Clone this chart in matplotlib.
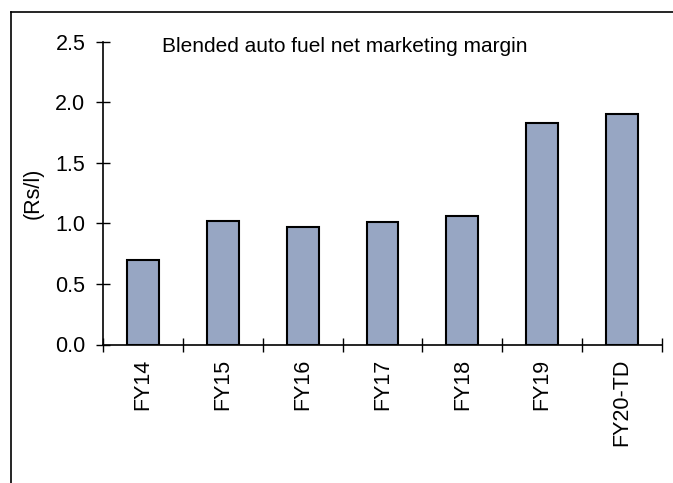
import matplotlib
matplotlib.use("Agg")
import matplotlib.pyplot as plt
from matplotlib.lines import Line2D
import numpy as np

plt.rcParams['font.family'] = ['Liberation Sans', 'DejaVu Sans']

categories = ["FY14", "FY15", "FY16", "FY17", "FY18", "FY19", "FY20-TD"]
margin = [0.70, 1.02, 0.97, 1.01, 1.06, 1.83, 1.90]
y_ticks = [0.0, 0.5, 1.0, 1.5, 2.0, 2.5]

W, H = 673, 483
FS = 15.5
fig = plt.figure(figsize=(W / 100, H / 100), dpi=100)
ax = fig.add_axes([103 / W, (H - 344.5) / H, (662 - 103) / W, (344.5 - 41.7) / H])

centers = np.arange(len(categories)) + 0.5
ax.bar(centers, margin, width=0.4, color="#97a6c3", edgecolor="black", linewidth=1.5, zorder=3)

ax.set_xlim(0, len(categories))
ax.set_ylim(0, 2.5)
ax.set_yticks(y_ticks)
ax.set_yticklabels([f"{v:.1f}" for v in y_ticks], fontsize=FS)

# boundary ticks between categories, labels at the bar centres
ax.set_xticks(np.arange(len(categories) + 1))
ax.set_xticklabels([])
ax.set_xticks(centers, minor=True)
ax.set_xticklabels(categories, minor=True, rotation=90, fontsize=FS)
ax.tick_params(axis="x", which="minor", length=0, pad=10)
ax.tick_params(axis="x", which="major", direction="inout", length=9.5, width=1)
ax.tick_params(axis="y", direction="inout", length=9.5, width=1, pad=8)

for s in ["top", "right"]:
    ax.spines[s].set_visible(False)
for s in ["left", "bottom"]:
    ax.spines[s].set_linewidth(1.2)

fig.text(33 / W, (H - 193) / H, "(Rs/l)", fontsize=FS, rotation=90,
         ha="center", va="center")
fig.text(162 / W, (H - 46) / H, "Blended auto fuel net marketing margin",
         fontsize=15, ha="left", va="center")

# outer frame (top and left edges)
fig.add_artist(Line2D([11 / W, 1.0], [(H - 12) / H, (H - 12) / H], color="black", lw=1.2,
                      transform=fig.transFigure))
fig.add_artist(Line2D([11 / W, 11 / W], [0, (H - 12) / H], color="black", lw=1.2,
                      transform=fig.transFigure))

fig.savefig("out.png", dpi=100)
